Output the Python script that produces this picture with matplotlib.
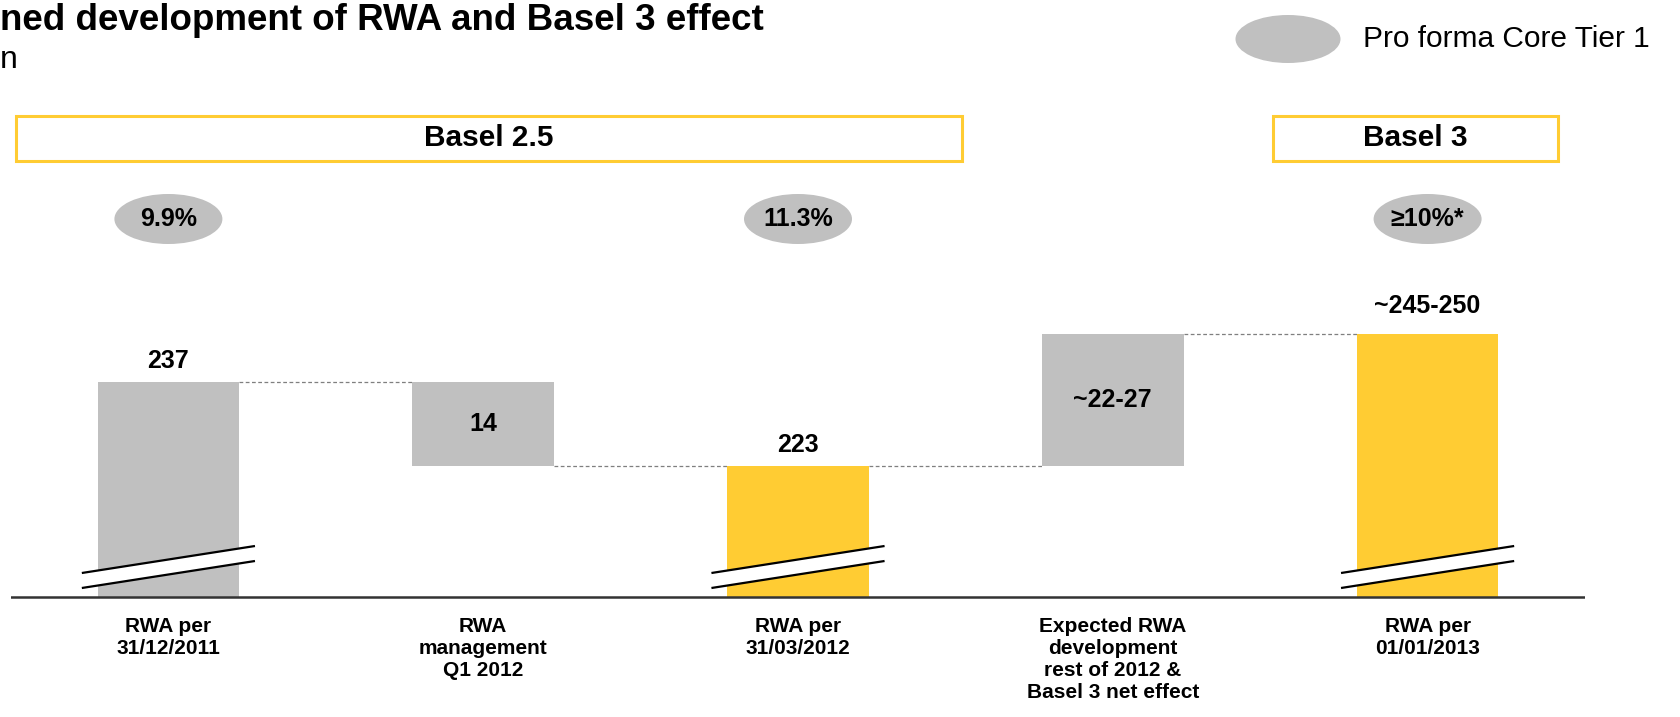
import matplotlib
matplotlib.use("Agg")
import matplotlib.pyplot as plt
from matplotlib.patches import Ellipse, Rectangle, Polygon

plt.rcParams["font.family"] = ["Liberation Sans", "DejaVu Sans"]

# --- data (EUR bn) ---
categories = ["RWA per\n31/12/2011",
              "RWA\nmanagement\nQ1 2012",
              "RWA per\n31/03/2012",
              "Expected RWA\ndevelopment\nrest of 2012 &\nBasel 3 net effect",
              "RWA per\n01/01/2013"]
kinds = ["total", "delta", "total", "delta", "total"]
bar_low = [None, 223, None, 223, None]
bar_high = [237, 237, 223, 245, 245]
value_labels = ["237", "14", "223", "~22-27", "~245-250"]
ratio_labels = ["9.9%", None, "11.3%", None, "\u226510%*"]
regimes = ["Basel 2.5", "Basel 3"]
regime_spans = [(0, 2), (4, 4)]

GREY = "#C0C0C0"
YELLOW = "#FFCC33"
floor = 201.2            # broken axis: bars start here
px_per_unit = 6.0

W, H = 1681, 717
fig = plt.figure(figsize=(W / 100, H / 100), dpi=100)
ax = fig.add_axes([11 / W, 0, 1574 / W, 1])
y0 = floor - 120 / px_per_unit
ax.set_ylim(y0, y0 + H / px_per_unit)
ax.set_xlim(-0.5, 4.5)
ax.axis("off")

bw = 0.45
for i, kind in enumerate(kinds):
    lo = floor if kind == "total" else bar_low[i]
    hi = bar_high[i]
    col = YELLOW if (kind == "total" and i > 0) else GREY
    ax.bar(i, hi - lo, bottom=lo, width=bw, color=col, zorder=2)
    if kind == "total":
        lift = 20 if i == len(kinds) - 1 else 15
        ax.annotate(value_labels[i], (i, hi), xytext=(0, lift), textcoords="offset points",
                    ha="center", va="center", fontsize=18, fontweight="bold")
        # axis break across the bar
        bx = 0.55
        yc, gap, rise = floor + 5.0, 2.5, 4.5
        up = [(i - bx / 2, yc + gap / 2 - rise / 2), (i + bx / 2, yc + gap / 2 + rise / 2)]
        dn = [(i - bx / 2, yc - gap / 2 - rise / 2), (i + bx / 2, yc - gap / 2 + rise / 2)]
        ax.add_patch(Polygon(up + dn[::-1], closed=True, facecolor="white",
                             edgecolor="none", zorder=3))
        for seg in (up, dn):
            ax.plot([p[0] for p in seg], [p[1] for p in seg], color="black", lw=1.6,
                    zorder=4, solid_capstyle="butt")
    else:
        ax.text(i, (lo + hi) / 2, value_labels[i], ha="center", va="center",
                fontsize=18, fontweight="bold", zorder=3)

# dashed connectors between neighbouring bars
levels = [bar_high[0], bar_low[1], bar_high[2], bar_high[3]]
for i, lev in enumerate(levels):
    ax.hlines(lev, i + bw / 2, i + 1 - bw / 2, colors="#7f7f7f", linestyles=(0, (3, 2)),
              lw=0.9, zorder=1)

ax.axhline(floor, color="#333333", lw=1.8, zorder=5)

# category labels
for i, c in enumerate(categories):
    ax.text(i, floor - 20 / px_per_unit, c, ha="center", va="top", fontsize=15,
            fontweight="bold", linespacing=1.2)

# core tier 1 ratio bubbles
ell_y = y0 + (H - 219) / px_per_unit
for i, r in enumerate(ratio_labels):
    if r is None:
        continue
    ax.add_patch(Ellipse((i, ell_y), 108 / 314.8, 50 / px_per_unit, facecolor=GREY,
                         edgecolor="none"))
    ax.text(i, ell_y, r, ha="center", va="center", fontsize=18, fontweight="bold",
            family=["Liberation Sans", "DejaVu Sans"])

# regime boxes
box_lo = y0 + (H - 161) / px_per_unit
box_hi = y0 + (H - 116) / px_per_unit
for name, (a, b) in zip(regimes, regime_spans):
    x_left = a - 0.484 if a == 0 else a - 0.49
    x_right = b + 0.52 if a == 0 else b + 0.415
    ax.add_patch(Rectangle((x_left, box_lo), x_right - x_left, box_hi - box_lo,
                           facecolor="white", edgecolor=YELLOW, lw=2.2))
    ax.text((x_left + x_right) / 2, (box_lo + box_hi) / 2, name, ha="center",
            va="center", fontsize=21.5, fontweight="bold")

# title, unit and legend
fig.text(0, 1 - 30 / H, "ned development of RWA and Basel 3 effect", ha="left",
         va="baseline", fontsize=26.5, fontweight="bold")
fig.text(0, 1 - 68 / H, "n", ha="left", va="baseline", fontsize=23)
leg = fig.add_axes([0, 0, 1, 1], facecolor="none")
leg.set_xlim(0, W)
leg.set_ylim(H, 0)
leg.axis("off")
leg.add_patch(Ellipse((1288, 39), 105, 48, facecolor=GREY, edgecolor="none"))
leg.text(1363, 39, "Pro forma Core Tier 1", ha="left", va="center", fontsize=21.5)

fig.savefig("out.png", dpi=100)
